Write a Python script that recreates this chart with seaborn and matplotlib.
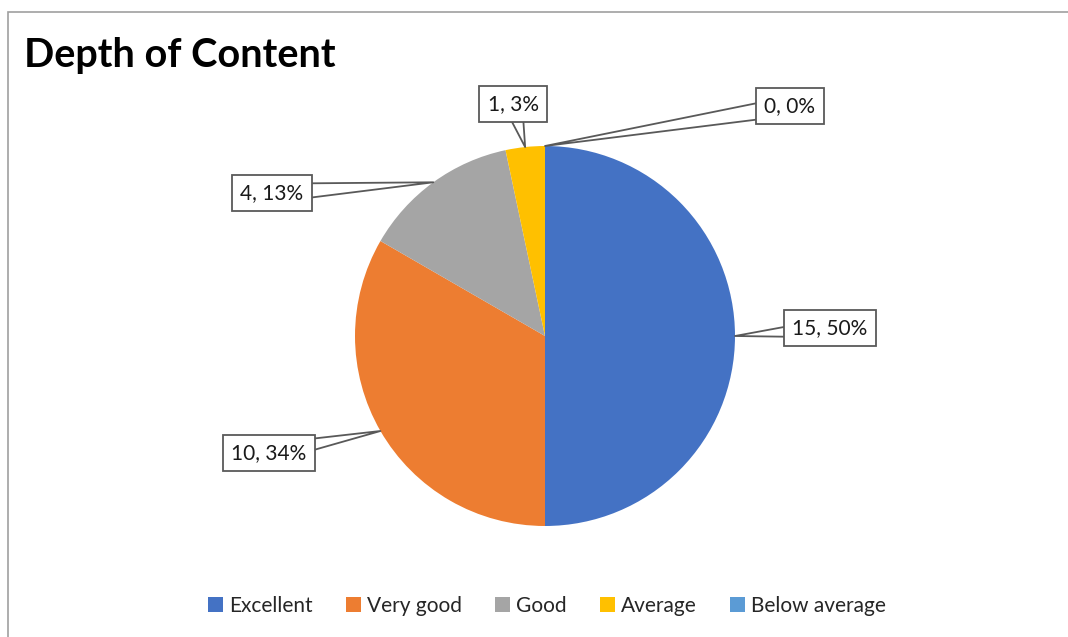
import numpy as np
import matplotlib
matplotlib.use("Agg")
import matplotlib.pyplot as plt
import seaborn as sns
from matplotlib.patches import Rectangle

# data
categories = ["Excellent", "Very good", "Good", "Average", "Below average"]
counts = [15, 10, 4, 1, 0]
pct_labels = ["50%", "34%", "13%", "3%", "0%"]
colors = sns.color_palette(["#4472C4", "#ED7D31", "#A5A5A5", "#FFC000", "#5B9BD5"])

sns.set_theme(style="white")
plt.rcParams["font.family"] = ["Lato", "DejaVu Sans"]

W, H = 1068, 637
fig = plt.figure(figsize=(W / 100, H / 100), dpi=100)
ax = fig.add_axes([0, 0, 1, 1])

# chart border
fig.patches.append(Rectangle((8 / W, -0.1), 1.2, 1 - 12 / H + 0.1, transform=fig.transFigure,
                             fill=False, ec="#A0A0A0", lw=1.2))

cx, cy, r = 545, H - 336, 190
wedges, _ = ax.pie(counts, colors=colors, startangle=90, counterclock=False,
                   center=(cx, cy), radius=r, frame=True,
                   wedgeprops=dict(linewidth=0))
ax.set_xlim(0, W)
ax.set_ylim(0, H)
ax.axis("off")

# callout box centres (pixels from top-left)
box_pos = [(830, 328), (269, 453), (272, 193), (513, 104), (790, 106)]
for w, n, p, (bx, by) in zip(wedges, counts, pct_labels, box_pos):
    mid = np.deg2rad((w.theta1 + w.theta2) / 2)
    tip = (cx + r * np.cos(mid), cy + r * np.sin(mid))
    ax.annotate(f"{n}, {p}", xy=tip, xytext=(bx, H - by),
                ha="center", va="center", fontsize=15, color="#1a1a1a",
                bbox=dict(boxstyle="square,pad=0.4", fc="white", ec="#595959", lw=1.3),
                arrowprops=dict(arrowstyle="wedge,tail_width=0.9,shrink_factor=0.5",
                                fc="white", ec="#595959", lw=1.3,
                                patchA=None, shrinkA=0, shrinkB=0))

fig.text(24 / W, 1 - 56 / H, "Depth of Content", fontsize=28.5, fontweight="bold",
         ha="left", va="center", color="black")

fig.legend(wedges, categories, loc="center", bbox_to_anchor=(547 / W, 1 - 606 / H),
           ncol=5, frameon=False, fontsize=15, handlelength=0.7, handleheight=0.7,
           handletextpad=0.3, columnspacing=1.6)

fig.savefig("out.png", dpi=100)
